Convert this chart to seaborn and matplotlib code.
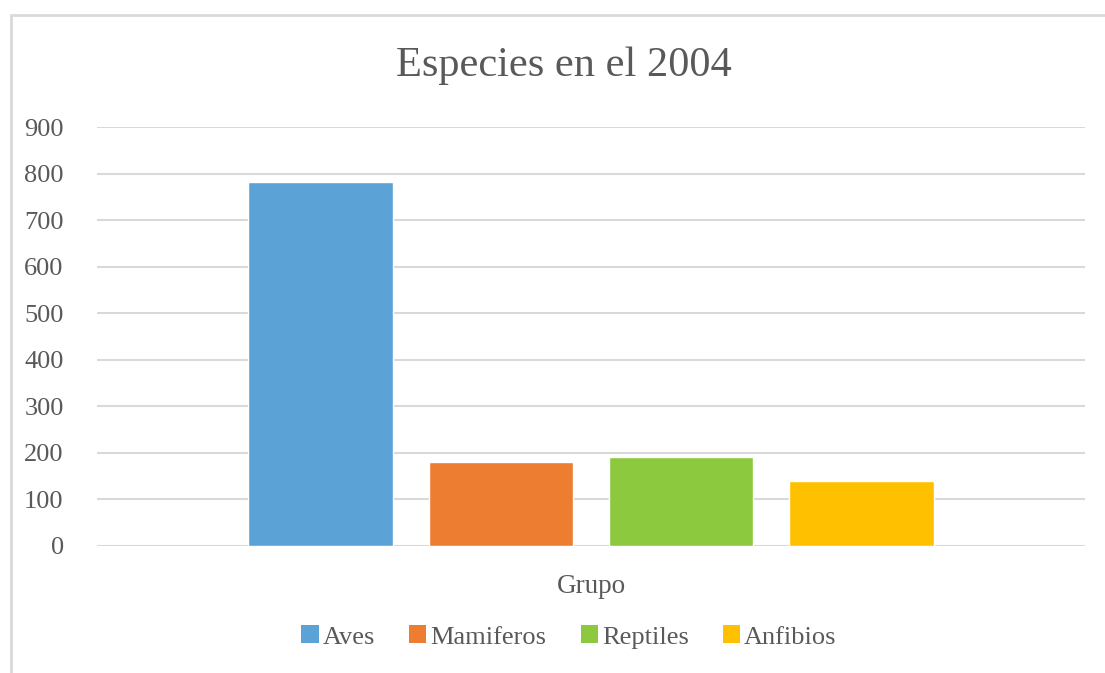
import matplotlib
matplotlib.use("Agg")
import matplotlib.pyplot as plt
import seaborn as sns
import pandas as pd
from matplotlib.patches import Rectangle

categories = ["Grupo"]
species = ["Aves", "Mamiferos", "Reptiles", "Anfibios"]
values = [782, 181, 191, 140]
colors = ["#5BA3D6", "#ED7D31", "#8CC93F", "#FFC000"]
yticks = [0, 100, 200, 300, 400, 500, 600, 700, 800, 900]

sns.set_theme(style="white")
plt.rcParams['font.family'] = ['Liberation Serif', 'DejaVu Serif']

df = pd.DataFrame({"grupo": categories * len(species), "especie": species, "valor": values})

W, H = 1105, 673
fig = plt.figure(figsize=(W / 100, H / 100), dpi=100)
fig.patch.set_facecolor("white")

# chart-area border (left and top edges visible)
fig.add_artist(Rectangle((10.5 / W, -0.1), 1.2, (673 - 14.5) / H + 0.1,
                         transform=fig.transFigure, fill=False,
                         edgecolor="#d9d9d9", linewidth=2))

ax = fig.add_axes([97 / W, (H - 546) / H, 988 / W, 419 / H])
sns.barplot(data=df, x="grupo", y="valor", hue="especie", hue_order=species,
            palette=colors, width=0.73, gap=0.2, ax=ax, saturation=1,
            legend=False, zorder=3)

ax.set_ylim(0, 900)
ax.set_yticks(yticks)
ax.set_xlim(-0.5, 0.5)
ax.yaxis.grid(True, color="#d9d9d9", linewidth=1.5, zorder=0)
ax.set_axisbelow(True)
for s in ax.spines.values():
    s.set_visible(False)
ax.tick_params(axis="y", length=0, pad=24, labelsize=19, labelcolor="#595959")
ax.tick_params(axis="x", length=0, labelsize=19.5, labelcolor="#595959", pad=20)
ax.set_xlabel("")
ax.set_ylabel("")

fig.text(564 / W, 1 - 66 / H, "Especies en el 2004", ha="center", va="center",
         fontsize=30.5, color="#595959")

handles = [Rectangle((0, 0), 1, 1, facecolor=c, edgecolor="none") for c in colors]
fig.legend(handles, species, loc="center", bbox_to_anchor=(569 / W, 1 - 637 / H),
           ncol=4, frameon=False, fontsize=19, labelcolor="#595959",
           handlelength=0.65, handleheight=0.65, handletextpad=0.15, columnspacing=1.3)

fig.savefig("out.png", dpi=100, facecolor="white")
